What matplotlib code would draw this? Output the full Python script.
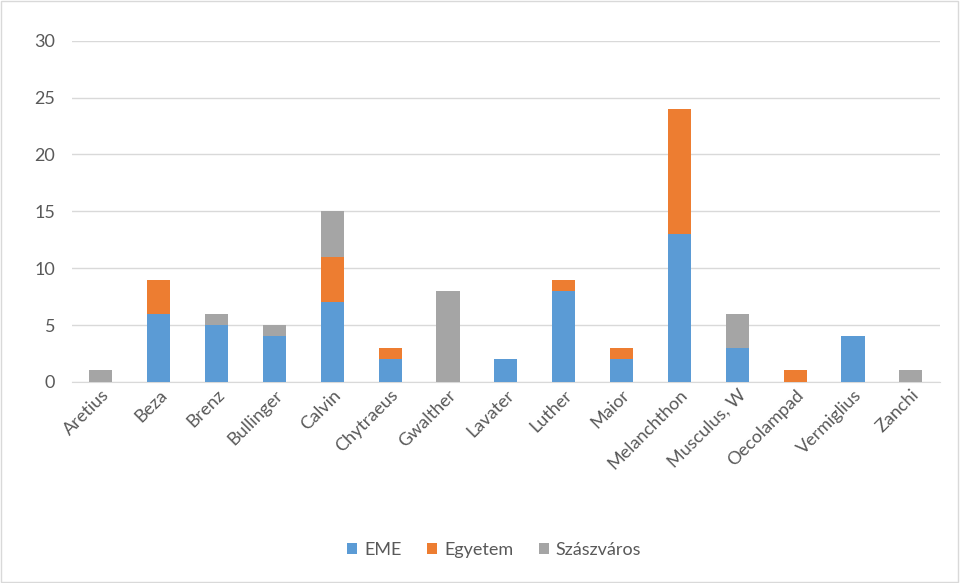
import matplotlib

matplotlib.use("Agg")
import matplotlib.pyplot as plt
import numpy as np
from matplotlib.patches import Rectangle

# data
authors = ["Aretius", "Beza", "Brenz", "Bullinger", "Calvin", "Chytraeus", "Gwalther",
           "Lavater", "Luther", "Maior", "Melanchthon", "Musculus, W", "Oecolampad",
           "Vermiglius", "Zanchi"]
eme = [0, 6, 5, 4, 7, 2, 0, 2, 8, 2, 13, 3, 0, 4, 0]
egyetem = [0, 3, 0, 0, 4, 1, 0, 0, 1, 1, 11, 0, 1, 0, 0]
szaszvaros = [1, 0, 1, 1, 4, 0, 8, 0, 0, 0, 0, 3, 0, 0, 1]
series = [("EME", eme, "#5B9BD5"), ("Egyetem", egyetem, "#ED7D31"),
          ("Szászváros", szaszvaros, "#A5A5A5")]
yticks = [0, 5, 10, 15, 20, 25, 30]

plt.rcParams.update({"font.family": ["Lato", "DejaVu Sans"], "font.size": 13})

fig = plt.figure(figsize=(9.6, 5.83), dpi=100)
ax = fig.add_axes([0.075, 0.345, 0.904, 0.585])

x = np.arange(len(authors))
bottom = np.zeros(len(authors))
for name, vals, color in series:
    ax.bar(x, vals, width=0.4, bottom=bottom, color=color, label=name, zorder=3)
    bottom += np.array(vals)

ax.set_xlim(-0.5, len(authors) - 0.5)
ax.set_ylim(0, 30)
ax.set_yticks(yticks)
ax.yaxis.grid(True, color="#D9D9D9", lw=1, zorder=0)
for s in ["top", "right", "left"]:
    ax.spines[s].set_visible(False)
ax.spines["bottom"].set_color("#D9D9D9")
ax.tick_params(axis="both", length=0, colors="#595959", labelsize=13)
ax.tick_params(axis="y", pad=12)
ax.set_xticks(x)
ax.set_xticklabels(authors, rotation=45, ha="right", rotation_mode="anchor")

fig.legend(loc="center", bbox_to_anchor=(0.515, 0.057), ncol=3, frameon=False,
           handlelength=0.55, handleheight=0.55, columnspacing=1.4, handletextpad=0.4,
           labelcolor="#595959", fontsize=13)

fig.patches.append(Rectangle((0.001, 0.002), 0.997, 0.996, transform=fig.transFigure,
                             fill=False, edgecolor="#D9D9D9", lw=1))

fig.savefig("out.png", dpi=100)
